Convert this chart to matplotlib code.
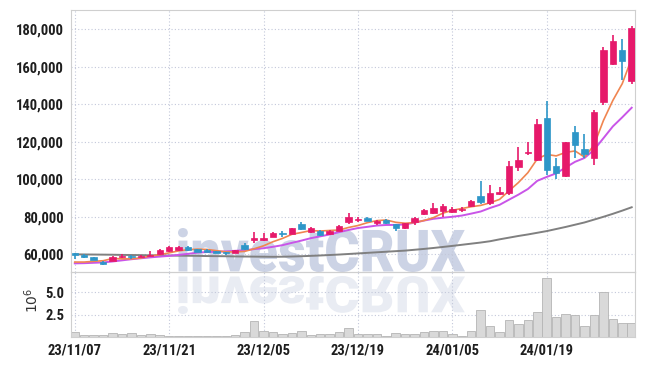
import matplotlib
matplotlib.use('Agg')
import matplotlib.pyplot as plt
from matplotlib.textpath import TextPath
from matplotlib.patches import PathPatch
from matplotlib.font_manager import FontProperties, fontManager
from matplotlib.transforms import Affine2D
from matplotlib.ticker import FuncFormatter
import numpy as np

# pick a narrow face for the labels if one is installed
installed = {f.name for f in fontManager.ttflist}
label_family = 'DejaVu Sans'
label_stretch = 'normal'
for name in ['Roboto Condensed', 'Liberation Sans Narrow', 'Open Sans Condensed', 'Noto Sans Condensed']:
    if name in installed:
        label_family = name
        break
else:
    if any('DejaVu Sans' in f.name and 'ondensed' in f.fname for f in fontManager.ttflist):
        label_stretch = 'condensed'

plt.rcParams['font.family'] = [label_family, 'DejaVu Sans']
plt.rcParams['font.stretch'] = label_stretch

# daily candles, 23/11/07 .. 24/02/01 (60 trading days)
opens = [60600, 59500, 58400, 56100, 56400, 58800, 58900, 58600, 59200, 60000,
         61800, 62100, 64000, 62600, 62500, 61700, 60800, 60700, 65000, 67700,
         67600, 69400, 71400, 70800, 76000, 72000, 72500, 71000, 72600, 77300,
         78200, 79500, 76500, 78200, 76000, 73800, 77000, 81300, 82300, 83200,
         82700, 83800, 85800, 91000, 87100, 92400, 92500, 106600, 113800, 110300,
         132900, 107000, 101700, 125200, 116000, 111100, 141200, 161600, 169100, 152300]
highs = [60700, 60000, 58700, 56300, 58900, 60000, 59800, 59600, 61800, 62600,
         64200, 64300, 64300, 62900, 62800, 62000, 61500, 62500, 65900, 72000,
         71500, 71900, 72600, 74300, 77300, 74500, 73000, 73000, 75500, 81800,
         80000, 80000, 78500, 78700, 76400, 76900, 79800, 84000, 87400, 86800,
         85000, 85300, 88800, 99000, 96800, 96000, 109800, 117200, 120000, 132300,
         141700, 111100, 120000, 128300, 124300, 136700, 170400, 177000, 174900, 181600]
lows = [57500, 57900, 56800, 54400, 56200, 57800, 57700, 58400, 59000, 59800,
        61500, 61900, 62000, 61200, 61300, 60500, 59700, 60500, 62500, 66000,
        67000, 69000, 69400, 70600, 73000, 71200, 70000, 70500, 72300, 76000,
        77300, 77600, 75600, 76300, 72600, 73500, 75800, 81000, 81500, 79700,
        82000, 82800, 85500, 86800, 86200, 91500, 91500, 104500, 112800, 109800,
        102200, 100400, 101000, 111100, 111600, 107500, 139400, 160700, 152700, 151000]
closes = [59900, 58600, 57000, 54700, 58700, 59000, 58600, 59300, 59900, 62300,
          63900, 63900, 62400, 61400, 61500, 60700, 60600, 62300, 62800, 68500,
          68600, 71500, 71000, 73800, 73300, 73800, 70300, 72400, 75100, 80000,
          79000, 77900, 77900, 76800, 73800, 76500, 79500, 83600, 84500, 85700,
          84100, 84200, 88400, 88000, 92800, 93000, 107000, 110500, 114300, 129600,
          104800, 103100, 119900, 118100, 113300, 135900, 169100, 173500, 163000, 180700]

# moving averages
ma_short = [55900, 55900, 56300, 56600, 57780, 57600, 57600, 58060, 59100, 59820,
            60800, 61860, 62480, 62780, 62620, 61980, 61320, 61300, 61580, 62980,
            64560, 66740, 68480, 70680, 71640, 72680, 72440, 72720, 72980, 74320,
            75360, 76880, 77980, 78320, 77080, 76580, 76900, 78040, 79580, 81960,
            83480, 84420, 85380, 86080, 87500, 89280, 93840, 98260, 103520, 110880,
            113240, 112460, 114340, 115100, 111840, 118060, 131260, 141980, 150960, 164440]
ma_mid = [55200, 55300, 55500, 55700, 56200, 56800, 57400, 57900, 58400, 58800,
          59200, 59730, 60270, 60940, 61220, 61390, 61590, 61890, 62180, 62800,
          63270, 64030, 64890, 66130, 67310, 68620, 69590, 70600, 71830, 72980,
          74020, 74660, 75350, 75650, 75700, 75970, 76890, 78010, 78950, 79520,
          80030, 80660, 81710, 82830, 84730, 86380, 89130, 91820, 94800, 99190,
          101260, 103150, 106300, 109310, 111360, 115650, 121860, 128160, 133030, 138140]
ma_long = [60000, 59950, 59900, 59850, 59800, 59700, 59650, 59600, 59500, 59450,
           59400, 59300, 59250, 59200, 59100, 59050, 59000, 58900, 58850, 58800,
           58750, 58700, 58750, 58850, 59000, 59200, 59400, 59650, 59900, 60200,
           60500, 60800, 61100, 61400, 61700, 62000, 62450, 62900, 63400, 63950,
           64500, 65100, 65700, 66300, 67000, 68000, 68900, 69800, 70600, 71500,
           72400, 73500, 74600, 75800, 77000, 78500, 80000, 81600, 83300, 85100]

volume = [0.55, 0.2, 0.2, 0.2, 0.45, 0.3, 0.45, 0.2, 0.35, 0.2,
          0.15, 0.15, 0.15, 0.15, 0.15, 0.15, 0.15, 0.2, 0.55, 1.75,
          0.65, 0.55, 0.35, 0.45, 0.65, 0.2, 0.3, 0.3, 0.55, 1.0,
          0.3, 0.3, 0.3, 0.15, 0.45, 0.3, 0.3, 0.55, 0.7, 0.7,
          0.35, 0.15, 0.65, 3.05, 1.2, 0.55, 1.95, 1.5, 1.95, 2.85,
          6.6, 2.3, 2.6, 2.45, 1.2, 2.5, 5.0, 2.05, 1.6, 1.6]  # millions

tick_pos = [0, 10, 20, 30, 40, 50]
tick_labels = ['23/11/07', '23/11/21', '23/12/05', '23/12/19', '24/01/05', '24/01/19']

UP = '#e6196a'
DOWN = '#2d96c8'
GRID = '#c3c8da'
SPINE = '#cfcfcf'

W, H = 645, 366
fig = plt.figure(figsize=(W / 100, H / 100), dpi=100)
fig.patch.set_facecolor('white')
ax = fig.add_axes([71 / W, 1 - 272 / H, 564 / W, 262 / H])
axv = fig.add_axes([71 / W, 1 - 337 / H, 564 / W, 65 / H], sharex=ax)

x = np.arange(len(closes))
o = np.array(opens); c = np.array(closes)
colors = [UP if cc >= oo else DOWN for oo, cc in zip(o, c)]

# moving averages
ax.plot(x, ma_long, color='#808080', lw=1.4, zorder=2)
ax.plot(x, ma_mid, color='#c955e8', lw=1.4, zorder=2)
ax.plot(x, ma_short, color='#f08550', lw=1.2, zorder=2)

# candles
ax.vlines(x, lows, highs, colors=colors, lw=1.2, zorder=3)
body_h = np.maximum(np.abs(c - o), 450)
ax.bar(x, body_h, bottom=np.minimum(o, c), width=0.68, color=colors,
       edgecolor=colors, linewidth=0.5, zorder=4)

# volume
axv.bar(x, np.array(volume) * 1e6, width=0.9, color='#d9d9d9',
        edgecolor='#b5b5b5', linewidth=0.6, zorder=2)

ax.set_xlim(-0.4, 59.35)
ax.set_ylim(50600, 190200)
axv.set_ylim(0, 7.3e6)

ax.set_yticks(range(60000, 180001, 20000))
ax.yaxis.set_major_formatter(FuncFormatter(lambda v, p: f'{int(v):,}'))
axv.set_yticks([2.5e6, 5.0e6])
axv.set_yticklabels(['2.5', '5.0'])
axv.set_xticks(tick_pos)
axv.set_xticklabels(tick_labels)
plt.setp(ax.get_xticklabels(), visible=False)

for a in (ax, axv):
    a.set_facecolor('none')
    a.grid(True, color=GRID, linestyle=(0, (1, 2)), linewidth=0.8, zorder=0)
    a.set_axisbelow(True)
    a.tick_params(length=0, labelsize=10.5, colors='#1e1e1e', pad=5)
    for s in a.spines.values():
        s.set_color(SPINE)
        s.set_linewidth(0.8)
    for t in a.get_xticklabels() + a.get_yticklabels():
        t.set_fontweight('bold')

fig.text(32 / W, 1 - 300 / H, r'$10^{6}$', rotation=90, ha='center', va='center',
         fontsize=10, color='#333333', family='DejaVu Sans', stretch='normal')

# watermark and its reflection
wm_font = FontProperties(family=['Roboto', 'DejaVu Sans'], weight='black')
tp = TextPath((0, 0), 'investCRUX', size=100, prop=wm_font)
ext = tp.get_extents()
wm = Affine2D().translate(-ext.x0, -ext.y0).scale(287 / ext.width, 44 / ext.height).translate(178, H - 272)
fig.add_artist(PathPatch(tp, transform=wm, facecolor='#ccd3e5', edgecolor='none', zorder=-1))
rf = Affine2D().translate(-ext.x0, -ext.y0).scale(287 / ext.width, -38 / ext.height).translate(178, H - 276)
fig.add_artist(PathPatch(tp, transform=rf, facecolor='#e9ecf3', edgecolor='none', zorder=-1))

fig.savefig('out.png', dpi=100, facecolor='white')
